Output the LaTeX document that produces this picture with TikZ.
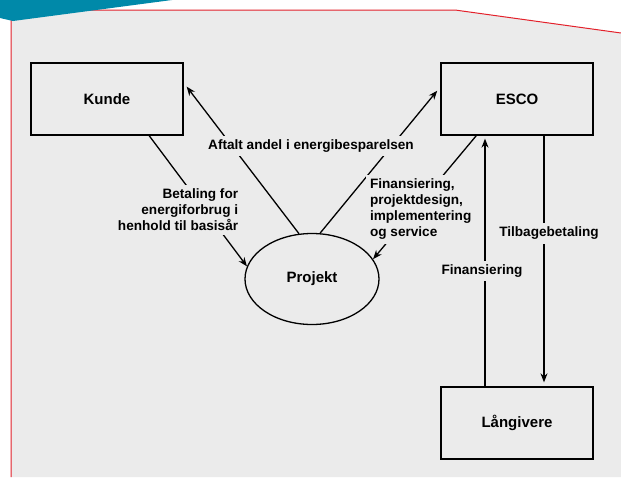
\documentclass[tikz,border=0pt]{standalone}
\usepackage{fontspec}
\setmainfont{Liberation Sans}
\usetikzlibrary{arrows.meta, shapes.geometric}
\usepackage{xcolor}
\definecolor{hintergrund}{HTML}{EBEBEB}
\definecolor{rand}{HTML}{E3212B}
\definecolor{petrol}{HTML}{0089A9}

\begin{document}
\begin{tikzpicture}[x=1pt, y=-1pt,
		kasse/.style={draw, line width=1.3pt, minimum width=152pt, minimum height=72pt, font=\fontsize{15}{18}\selectfont\bfseries},
		oval/.style={draw, line width=1.3pt, ellipse, inner sep=0pt, minimum width=134pt, minimum height=91pt, font=\fontsize{15}{18}\selectfont\bfseries},
		pfeil/.style={line width=1.3pt, -{Stealth[length=9pt, width=7pt]}},
		etikett/.style={fill=hintergrund, inner sep=4pt, font=\fontsize{13.6}{16}\selectfont\bfseries}]

			\useasboundingbox (0,0) rectangle (621,477);
			\fill[hintergrund] (11,10) -- (455,10) -- (621,33) -- (621,477) -- (11,477) -- cycle;
			\draw[rand, line width=1pt] (11,477) -- (11,10) -- (455,10) -- (621,33);
			\fill[petrol] (0,0) -- (172,0) -- (13,21) -- (0,18) -- cycle;

			\node[kasse] (kunde) at (107,99) {Kunde};
			\node[kasse] (esco) at (517,99) {ESCO};
			\node[kasse] (laangivere) at (517,423) {Långivere};
			\node[oval] (projekt) at (312,279) {Projekt};

			\draw[pfeil, shorten >=5pt] (projekt.106) -- (kunde.12);
			\draw[pfeil, shorten >=5pt] (projekt.80) -- (esco.171);
			\node[etikett] (aftalt) at (311,146) {Aftalt andel i energibesparelsen};

			\draw[pfeil] (kunde.-41) -- (projekt.169)
				node[etikett, pos=0.5, align=right, xshift=-20pt, yshift=-9pt] {Betaling for\\energiforbrug i\\henhold til basisår};
			\draw[pfeil] (esco.-138) -- (projekt.18)
				node[etikett, pos=0.5, align=left, xshift=-4pt, yshift=-12pt] {Finansiering,\\projektdesign,\\implementering\\og service};

			\draw[pfeil, shorten >=3pt] ([xshift=-32pt]laangivere.north) -- ([xshift=-32pt]esco.south)
				node[etikett, pos=0.46, xshift=-3pt] {Finansiering};
			\draw[pfeil, shorten >=4pt] ([xshift=27pt]esco.south) -- ([xshift=27pt]laangivere.north)
				node[etikett, pos=0.39, xshift=5pt] {Tilbagebetaling};
		\end{tikzpicture}
\end{document}
